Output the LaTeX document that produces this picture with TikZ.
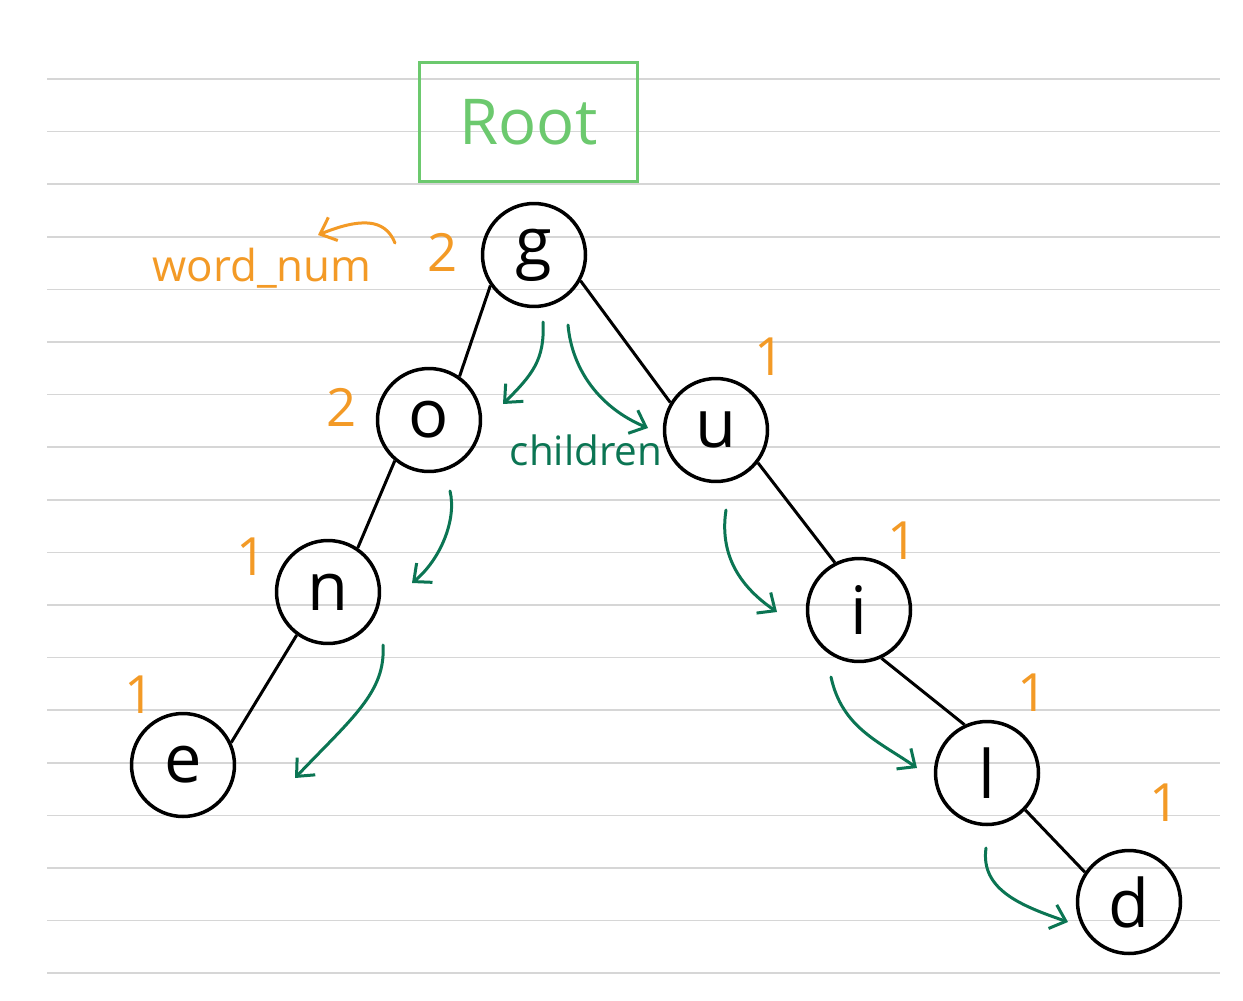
\documentclass[tikz,border=0pt]{standalone}
\usepackage{fontspec}
\setmainfont{Open Sans}
\usetikzlibrary{arrows.meta}
\definecolor{wordorange}{HTML}{F39A26}
\definecolor{kidgreen}{HTML}{0B7553}
\definecolor{rootgreen}{HTML}{6CC96E}
\definecolor{ruling}{HTML}{D6D6D6}

\begin{document}
\begin{tikzpicture}[x=0.02cm, y=-0.02cm,
    >={Straight Barb[length=2.8mm,width=5mm]},
    letter/.style={draw, circle, line width=0.07cm, minimum size=2.06cm,
      inner sep=0pt, font=\fontsize{38}{38}\selectfont},
    cnt/.style={text=wordorange, font=\fontsize{30}{30}\selectfont},
    kidarrow/.style={->, draw=kidgreen, line width=0.06cm, line cap=round},
    branch/.style={line width=0.06cm}]
    \useasboundingbox[fill=white] (0,0) rectangle (1243,1000);

    % ruled paper
    \foreach \k in {0,...,17}
      \draw[ruling, line width=0.035cm] (47,{79+52.6*\k}) -- (1220,{79+52.6*\k});

    % root box
    \node [draw=rootgreen, line width=0.07cm, minimum width=4.36cm,
           minimum height=2.38cm, text=rootgreen,
           font=\fontsize{36}{36}\selectfont] (root) at (528.5,122) {Root};

    % left branch: g o n e
    \node [letter] (g) at (534,255) {g};
    \node [letter] (o) at (429,420) {o};
    \node [letter] (n) at (328,592) {n};
    \node [letter] (e) at (183,765) {e};

    % right branch: u i l d
    \node [letter] (u) at (716,430) {u};
    \node [letter] (i) at (859,610) {i};
    \node [letter] (l) at (987,773) {l};
    \node [letter] (d) at (1129,902) {d};

    \draw[branch] (g.215) -- (o.55);
    \draw[branch] (o.230) -- (n.56);
    \draw[branch] (n.234) -- (e.25);
    \draw[branch] (g.331) -- (u.149);
    \draw[branch] (u.322) -- (i.117);
    \draw[branch] (i.295) -- (l.115);
    \draw[branch] (l.316) -- (d.146);

    % word counts
    \node [cnt] (cg) at (443,252)  {2};
    \node [cnt] (co) at (342,407)  {2};
    \node [cnt] (cu) at (770,357)  {1};
    \node [cnt] (cn) at (252,557)  {1};
    \node [cnt] (ci) at (903,541)  {1};
    \node [cnt] (ce) at (140,695)  {1};
    \node [cnt] (cl) at (1033,693) {1};
    \node [cnt] (cd) at (1165,803) {1};
    \node [text=wordorange, font=\fontsize{25}{25}\selectfont]
          (wnum) at (262,268) {word\_num};
    \coordinate (wa) at (395,243);
    \coordinate (wb) at (318,235);
    \draw[->, wordorange, line width=0.06cm, line cap=round]
          (wa) .. controls (385,218) and (360,218) .. (wb);

    % children arrows
    \node [text=kidgreen, font=\fontsize{23}{23}\selectfont]
          (kids) at (586,450) {children};
    \coordinate (k1a) at (543,322);  \coordinate (k1b) at (503,404);
    \coordinate (k2a) at (568,325);  \coordinate (k2b) at (648,428);
    \coordinate (k3a) at (450,491);  \coordinate (k3b) at (412,583);
    \coordinate (k4a) at (383,645);  \coordinate (k4b) at (295,778);
    \coordinate (k5a) at (726,510);  \coordinate (k5b) at (777,612);
    \coordinate (k6a) at (831,677);  \coordinate (k6b) at (917,768);
    \coordinate (k7a) at (986,848);  \coordinate (k7b) at (1068,922);
    \draw[kidarrow] (k1a) .. controls (545,360) and (532,375) .. (k1b);
    \draw[kidarrow] (k2a) .. controls (572,370) and (600,408) .. (k2b);
    \draw[kidarrow] (k3a) .. controls (457,520) and (440,560) .. (k3b);
    \draw[kidarrow] (k4a) .. controls (386,692) and (352,718) .. (k4b);
    \draw[kidarrow] (k5a) .. controls (718,562) and (748,592) .. (k5b);
    \draw[kidarrow] (k6a) .. controls (842,728) and (880,742) .. (k6b);
    \draw[kidarrow] (k7a) .. controls (980,890) and (1022,906) .. (k7b);
\end{tikzpicture}
\end{document}
